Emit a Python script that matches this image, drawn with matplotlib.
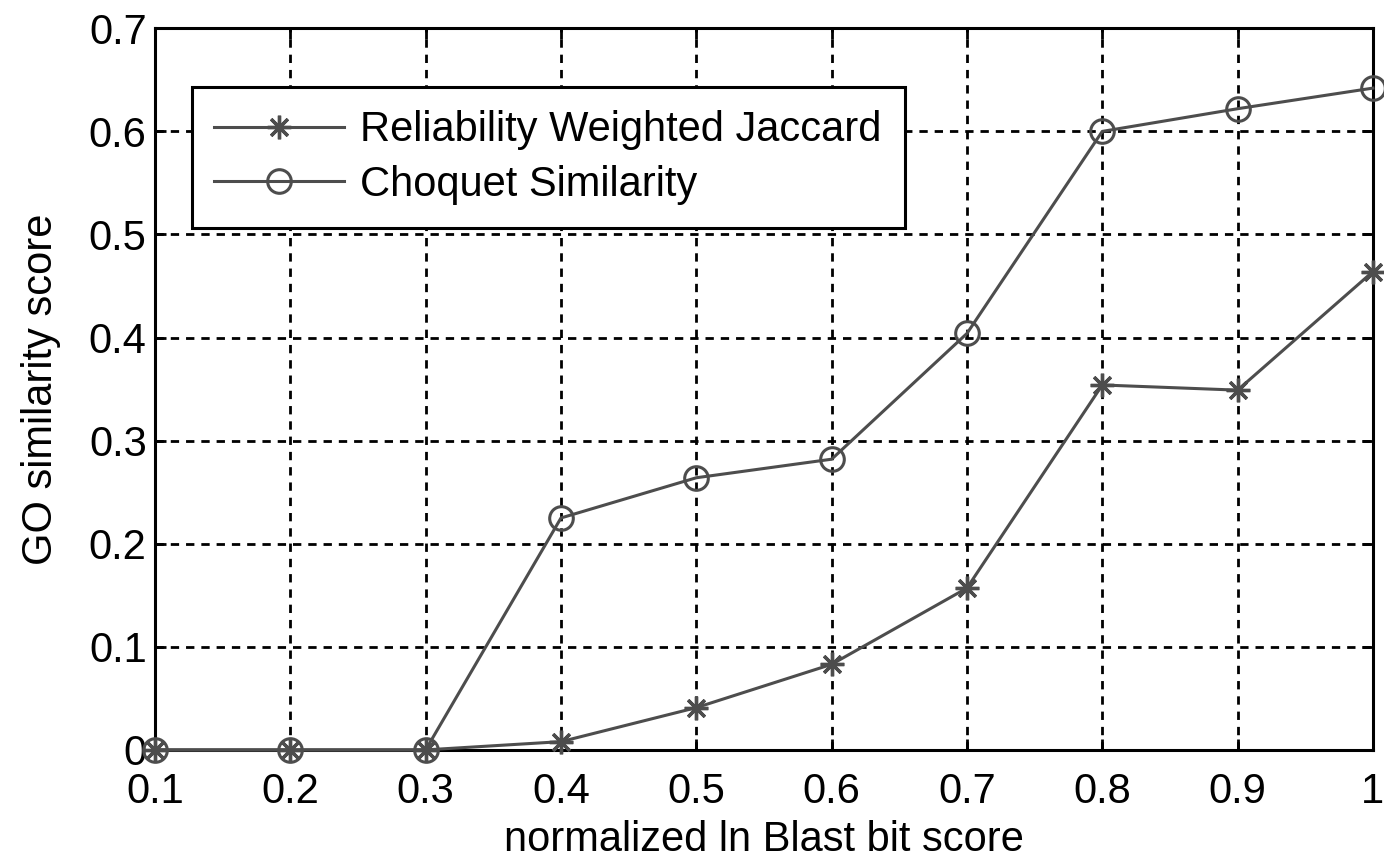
import matplotlib
matplotlib.use('Agg')
import matplotlib.pyplot as plt
import numpy as np

# data
bit_score = [0.1, 0.2, 0.3, 0.4, 0.5, 0.6, 0.7, 0.8, 0.9, 1.0]
jaccard = [0.0, 0.0, 0.0, 0.008, 0.041, 0.083, 0.157, 0.354, 0.349, 0.464]
choquet = [0.0, 0.0, 0.0, 0.225, 0.264, 0.282, 0.404, 0.600, 0.622, 0.642]
xticks = [0.1, 0.2, 0.3, 0.4, 0.5, 0.6, 0.7, 0.8, 0.9, 1]
xtick_labels = ['0.1', '0.2', '0.3', '0.4', '0.5', '0.6', '0.7', '0.8', '0.9', '1']
yticks = [0, 0.1, 0.2, 0.3, 0.4, 0.5, 0.6, 0.7]
ytick_labels = ['0', '0.1', '0.2', '0.3', '0.4', '0.5', '0.6', '0.7']

plt.rcParams['font.family'] = ['Liberation Sans', 'DejaVu Sans']

fig = plt.figure(figsize=(13.84, 8.58), dpi=100)
ax = fig.add_axes([0.112, 0.126, 0.880, 0.841])

line_col = '#4d4d4d'
ax.plot(bit_score, jaccard, color=line_col, linewidth=2.2, marker=(8, 2, 0),
        markersize=17, markeredgewidth=2.4, label='Reliability Weighted Jaccard',
        clip_on=False, zorder=3)
ax.plot(bit_score, choquet, color=line_col, linewidth=2.2, marker='o',
        markersize=17, markerfacecolor='none', markeredgewidth=2.2,
        markeredgecolor=line_col, label='Choquet Similarity', clip_on=False, zorder=3)

ax.set_xlim(0.1, 1)
ax.set_ylim(0, 0.7)
ax.set_xticks(xticks)
ax.set_xticklabels(xtick_labels)
ax.set_yticks(yticks)
ax.set_yticklabels(ytick_labels)
ax.tick_params(direction='in', length=8, width=2, top=True, right=True,
               labelsize=30, pad=6)
ax.tick_params(axis='x', pad=16)
ax.grid(True, color='black', linestyle=(0, (3, 2.5)), linewidth=2)
for s in ax.spines.values():
    s.set_linewidth(2.2)

ax.set_xlabel('normalized ln Blast bit score', fontsize=30, labelpad=6)
ax.set_ylabel('GO similarity score', fontsize=30, labelpad=20)

leg = ax.legend(loc='upper left', bbox_to_anchor=(0.03, 0.918), fontsize=30,
                frameon=True, fancybox=False, edgecolor='black', framealpha=1,
                handlelength=3.1, handletextpad=0.4, borderpad=0.55,
                labelspacing=0.35, borderaxespad=0)
leg.get_frame().set_linewidth(2.2)

plt.savefig('out.png', dpi=100)
